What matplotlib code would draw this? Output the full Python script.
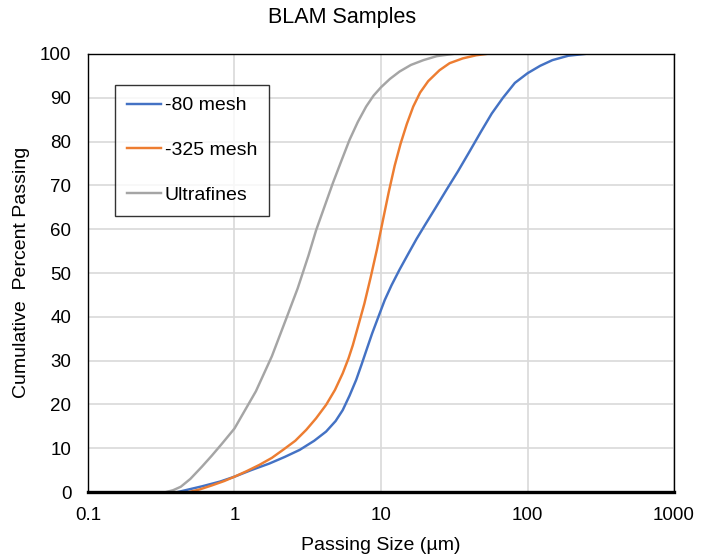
import matplotlib.pyplot as plt

plt.rcParams['font.family'] = ['Liberation Sans', 'DejaVu Sans']

# -80 mesh
size_80 = [0.41, 0.6, 0.8, 1.0, 1.3, 1.73, 2.2, 2.78, 3.5, 4.22, 4.9, 5.48, 6.1, 6.77,
           7.35, 7.92, 8.7, 9.6, 10.6, 11.8, 13.4, 15.3, 17.5, 20.0, 23.5, 28.0, 33.5,
           40.0, 48.0, 57.0, 68.0, 82.0, 100.0, 122.0, 148.0, 190.0, 245.0]
pass_80 = [0.0, 1.3, 2.4, 3.5, 5.0, 6.5, 8.0, 9.6, 11.7, 13.8, 16.2, 18.7, 22.0, 25.6,
           29.0, 32.2, 36.2, 40.0, 43.8, 47.2, 50.8, 54.3, 57.8, 61.0, 64.8, 69.0, 73.2,
           77.6, 82.2, 86.4, 90.0, 93.4, 95.6, 97.3, 98.6, 99.6, 100.0]

# -325 mesh
size_325 = [0.49, 0.58, 0.7, 0.85, 1.0, 1.2, 1.48, 1.8, 2.14, 2.6, 3.09, 3.6, 4.22, 4.85,
            5.48, 6.0, 6.42, 7.0, 7.7, 8.5, 9.4, 10.3, 11.3, 12.4, 13.6, 15.0, 16.6, 18.5,
            21.0, 25.1, 29.4, 36.2, 44.6, 52.2]
pass_325 = [0.0, 0.6, 1.5, 2.5, 3.5, 4.7, 6.2, 7.8, 9.6, 11.7, 14.2, 16.8, 19.9, 23.3,
            27.1, 30.5, 33.5, 38.0, 43.0, 49.0, 55.5, 62.0, 68.5, 74.5, 79.5, 84.0, 88.0,
            91.2, 93.8, 96.3, 97.9, 99.0, 99.7, 100.0]

# Ultrafines
size_uf = [0.342, 0.38, 0.43, 0.5, 0.6, 0.7, 0.82, 1.0, 1.4, 1.8, 2.25, 2.7, 3.2, 3.61,
           4.15, 4.69, 5.35, 6.1, 6.95, 7.92, 8.9, 10.0, 11.5, 13.4, 16.0, 19.5, 24.0, 30.9]
pass_uf = [0.0, 0.4, 1.2, 3.0, 5.8, 8.3, 11.0, 14.5, 23.0, 31.0, 39.5, 46.5, 54.0, 59.8,
           65.5, 70.5, 75.5, 80.4, 84.5, 88.0, 90.5, 92.4, 94.3, 96.0, 97.5, 98.6, 99.5, 100.0]

fig = plt.figure(figsize=(7.01, 5.6), dpi=100)
ax = fig.add_axes([0.1255, 0.1214, 0.8360, 0.7822])

ax.plot(size_80, pass_80, color='#4472C4', lw=1.75, label='-80 mesh')
ax.plot(size_325, pass_325, color='#ED7D31', lw=1.75, label='-325 mesh')
ax.plot(size_uf, pass_uf, color='#A5A5A5', lw=1.75, label='Ultrafines')

ax.set_xscale('log')
ax.set_xlim(0.1, 1000)
ax.set_ylim(0, 100)
ax.set_xticks([0.1, 1, 10, 100, 1000])
ax.set_xticklabels(['0.1', '1', '10', '100', '1000'])
ax.set_yticks(range(0, 101, 10))
ax.minorticks_off()
ax.tick_params(length=0, labelsize=13.5)
ax.tick_params(axis='x', pad=11)
ax.tick_params(axis='y', pad=12)
ax.grid(True, color='#d9d9d9', lw=1.2)
ax.set_axisbelow(True)

for s in ax.spines.values():
    s.set_color('black')
    s.set_linewidth(1)
ax.axhline(0, color='black', lw=2.4, zorder=5, clip_on=False)

fig.text(0.488, 1 - 18 / 560, 'BLAM Samples', fontsize=15.5, ha='center', va='center')
fig.text(0.543, 1 - 546 / 560, 'Passing Size (µm)', fontsize=14, ha='center', va='center')
fig.text(22 / 701, 1 - 272 / 560, 'Cumulative  Percent Passing', fontsize=14,
         rotation=90, ha='center', va='center')

leg = ax.legend(loc='upper left', bbox_to_anchor=(0.046, 0.929), fontsize=14,
                frameon=True, fancybox=False, edgecolor='black', handlelength=1.75,
                handletextpad=0.2, labelspacing=1.4, borderpad=0.6, borderaxespad=0)
leg.get_frame().set_linewidth(1)

fig.savefig('out.png', dpi=100)
